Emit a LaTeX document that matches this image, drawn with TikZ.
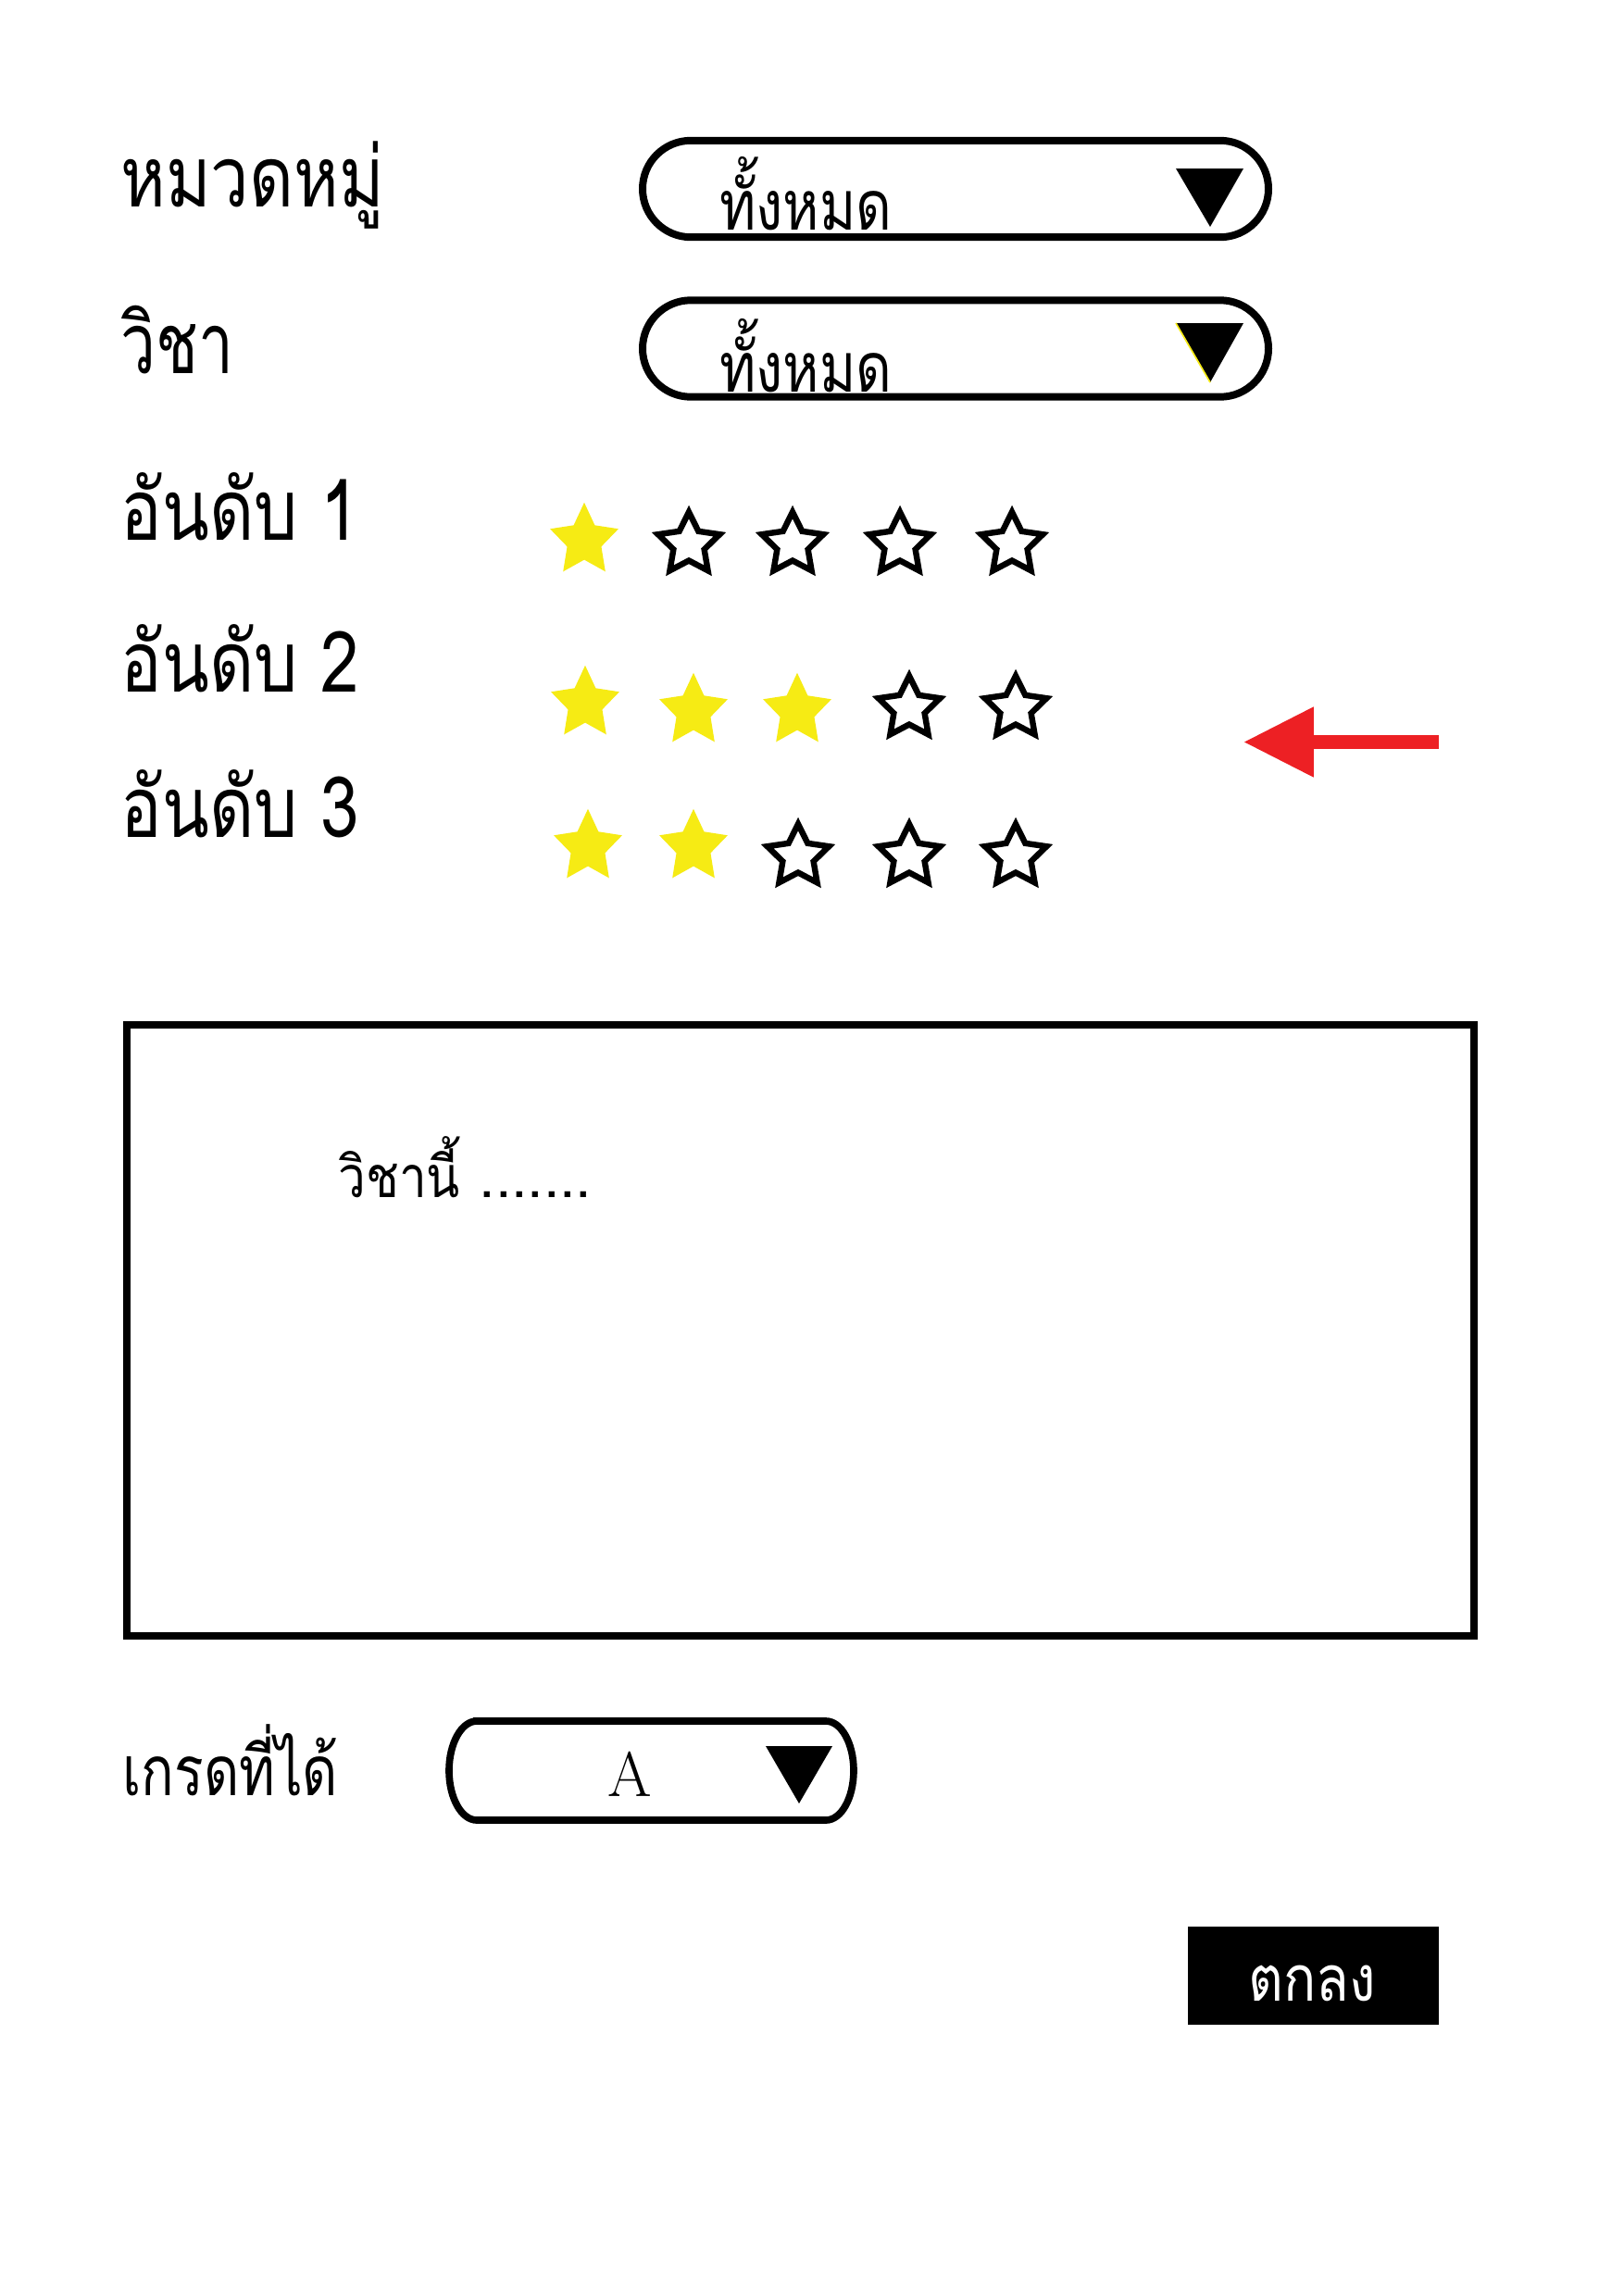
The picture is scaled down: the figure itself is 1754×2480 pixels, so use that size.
\documentclass[tikz,border=0pt]{standalone}
\usepackage{fontspec}
\newfontfamily\thai[Script=Thai]{Loma}
\usetikzlibrary{shapes.misc,arrows.meta}
\definecolor{staryellow}{RGB}{246,235,20}
\definecolor{arrowred}{RGB}{237,32,36}
\tikzset{
  pics/starshape/.style={code={
    \path[pic actions] (0,-40) -- (-11.76,-16.18) -- (-38.04,-12.36) -- (-19.02,6.18)
      -- (-23.51,32.36) -- (0,20) -- (23.51,32.36) -- (19.02,6.18) -- (38.04,-12.36)
      -- (11.76,-16.18) -- cycle;}},
  ystar/.style={fill=staryellow,draw=none,xscale=0.97,yscale=1.03},
  ostar/.style={draw=black,fill=none,line width=3.1pt,line join=miter,scale=0.875},
  lbl/.style={anchor=base west,inner sep=0pt,font=\thai\fontsize{44}{50}\selectfont},
  ddtext/.style={anchor=base west,inner sep=0pt,font=\thai\fontsize{36}{40}\selectfont},
  ddbox/.style={draw=black,line width=3.85pt,rounded rectangle,inner sep=0pt,minimum width=325.7pt,minimum height=50.3pt},
  ddtri/.style={fill=black},
}
\begin{document}
\begin{tikzpicture}[x=0.4818pt,y=-0.4818pt]
\useasboundingbox[fill=white] (0,0) rectangle (1754,2480);

% labels
\node[lbl] (lcat) at (130,223) {\scalebox{0.81}[1]{หมวดหมู่}};
\node[lbl] (lsub) at (130,403) {\scalebox{0.74}[1]{วิชา}};
\node[lbl] (lr1) at (130,583) {\scalebox{0.815}[1]{อันดับ 1}};
\node[lbl] (lr2) at (130,747) {\scalebox{0.815}[1]{อันดับ 2}};
\node[lbl] (lr3) at (130,904) {\scalebox{0.815}[1]{อันดับ 3}};

% dropdowns
\node[ddbox] (dd1) at (1032,204) {};
\node[ddtext] (dd1t) at (777,248) {\scalebox{0.8}[1]{ทั้งหมด}};
\fill[ddtri] (1270,182) -- (1343,182) -- (1307,245) -- cycle;

\node[ddbox] (dd2) at (1032,376.5) {};
\node[ddtext] (dd2t) at (777,423) {\scalebox{0.8}[1]{ทั้งหมด}};
\fill[ddtri] (1270,349) -- (1343,349) -- (1307,413) -- cycle;
\draw[staryellow,line width=0.8pt] (1270,349) -- (1307,413);

% stars row 1
\pic[ystar] at (631,584) {starshape};
\pic[ostar] at (744,588) {starshape};
\pic[ostar] at (856,588) {starshape};
\pic[ostar] at (972,588) {starshape};
\pic[ostar] at (1093,588) {starshape};
% row 2
\pic[ystar] at (632,760) {starshape};
\pic[ystar] at (749,768) {starshape};
\pic[ystar] at (861,768) {starshape};
\pic[ostar] at (982,765) {starshape};
\pic[ostar] at (1097,765) {starshape};
% row 3
\pic[ystar] at (635,915) {starshape};
\pic[ystar] at (749,915) {starshape};
\pic[ostar] at (862,925) {starshape};
\pic[ostar] at (982,925) {starshape};
\pic[ostar] at (1097,925) {starshape};

% red arrow
\coordinate (atail) at (1554,801.5);
\coordinate (atip) at (1343,801.5);
\draw[arrowred,line width=7.2pt,-{Triangle[length=36.6pt,width=34.7pt]}] (atail) -- (atip);

% comment box
\node[draw=black,line width=3.85pt,inner sep=0pt,minimum width=701pt,minimum height=318pt] (box) at (864.5,1437) {};
\node[anchor=base west,inner sep=0pt,font=\thai\fontsize{30}{34}\selectfont] (boxt) at (365,1293) {\scalebox{0.85}[1]{วิชานี้} .......};

% grade
\node[anchor=base west,inner sep=0pt,font=\thai\fontsize{36}{40}\selectfont] (lgrade) at (132,1939) {\scalebox{0.79}[1]{เกรดที่ได้}};
\draw[line width=3.7pt] (515,1859) -- (892,1859) arc[start angle=-90,end angle=90,x radius=30,y radius=53.5]
  -- (515,1966) arc[start angle=90,end angle=270,x radius=30,y radius=53.5] -- cycle;
\node[anchor=base,inner sep=0pt,font=\fontsize{33}{36}\selectfont] (dd3t) at (680.5,1940) {A};
\fill[ddtri] (827,1886) -- (899,1886) -- (863,1948) -- cycle;

% ok button
\node[fill=black,inner sep=0pt,minimum width=130.6pt,minimum height=51.1pt] (ok) at (1418.5,2134) {};
\node[anchor=base west,inner sep=0pt,text=white,font=\thai\fontsize{33}{36}\selectfont] (okt) at (1348,2161) {\scalebox{0.85}[1]{ตกลง}};
\end{tikzpicture}
\end{document}
